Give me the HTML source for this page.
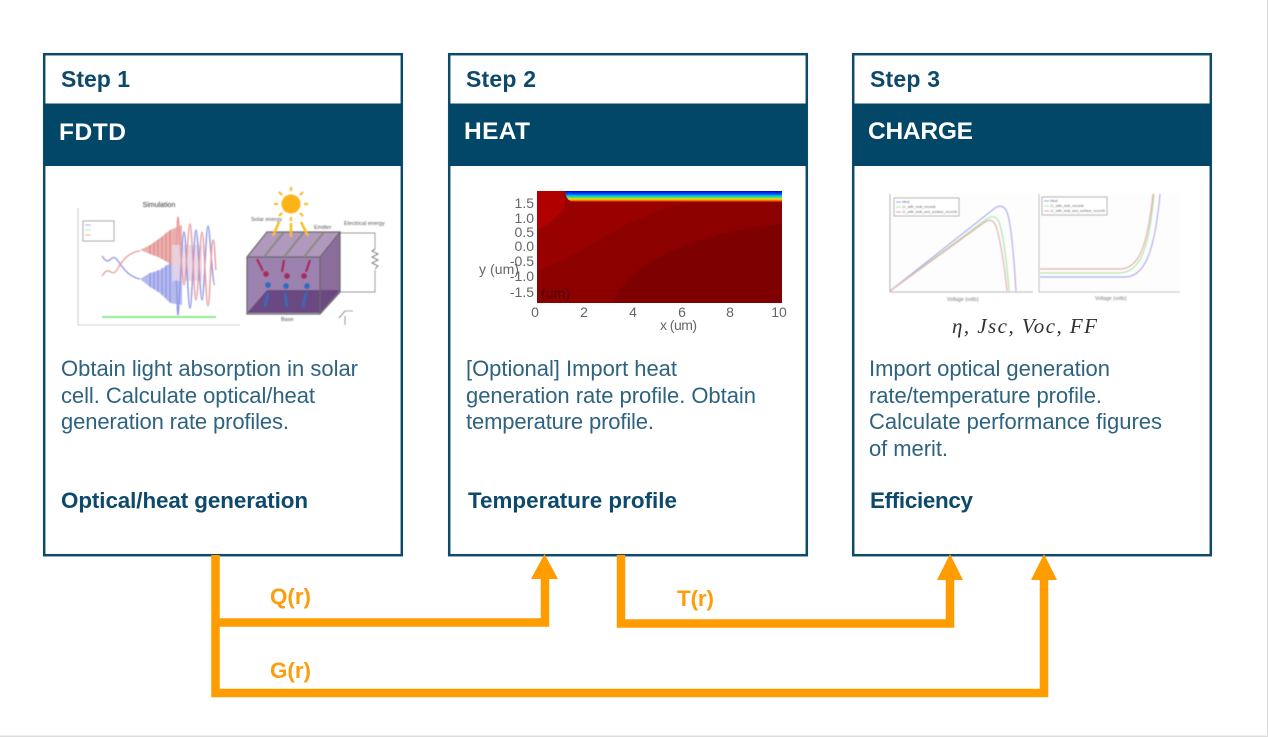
<!DOCTYPE html>
<html><head><meta charset="utf-8"><style>
html,body{margin:0;padding:0;background:#fff}
svg{display:block}
text{font-family:"Liberation Sans",sans-serif}
.s{font-size:23px;font-weight:700;fill:#0f4a6b}
.h{font-size:24.500px;font-weight:700;fill:#fff}
.b{font-size:22px;fill:#2f6480}
.o{font-size:22.400px;font-weight:700;fill:#0f4a6b}
.r{font-size:22.400px;font-weight:700;fill:#ff9c0a}
.m{font-size:21px;font-style:italic;font-family:"Liberation Serif",serif;fill:#333}
</style></head><body>
<svg width="1268" height="737" viewBox="0 0 1268 737" xmlns="http://www.w3.org/2000/svg">
<defs>
<filter id="bl" x="-5%" y="-5%" width="110%" height="110%"><feGaussianBlur stdDeviation="0.6"/></filter>
<filter id="bl2" x="-5%" y="-5%" width="110%" height="110%"><feGaussianBlur stdDeviation="0.35"/></filter>
<linearGradient id="rb" x1="0" y1="0" x2="0" y2="1">
<stop offset="0" stop-color="#0000c8"/><stop offset=".28" stop-color="#0050ff"/><stop offset=".45" stop-color="#00d0e0"/><stop offset=".6" stop-color="#50e060"/><stop offset=".72" stop-color="#f8e000"/><stop offset=".87" stop-color="#ff6a00"/><stop offset="1" stop-color="#a00000"/>
</linearGradient>
</defs>
<rect width="1268" height="737" fill="#fff"/>
<rect x="1267" y="0" width="1" height="737" fill="#ddd"/>
<rect x="0" y="735.500" width="1268" height="1.500" fill="#ddd"/>

<!-- boxes -->
<g fill="#fff" stroke="#0f4a6b" stroke-width="2.500">
<rect x="44.200" y="54.200" width="357.600" height="501"/>
<rect x="449.200" y="54.200" width="357.600" height="501"/>
<rect x="853.200" y="54.200" width="357.600" height="501"/>
</g>
<g fill="#024767">
<rect x="44" y="103.500" width="358" height="62.500"/>
<rect x="449" y="103.500" width="358" height="62.500"/>
<rect x="853" y="103.500" width="358" height="62.500"/>
</g>

<g filter="url(#bl2)">
<text class="s" x="61" y="87" textLength="69">Step 1</text>
<text class="s" x="466" y="87" textLength="70">Step 2</text>
<text class="s" x="870" y="87" textLength="70">Step 3</text>
<text class="h" x="59" y="140" textLength="67">FDTD</text>
<text class="h" x="464" y="139" textLength="66">HEAT</text>
<text class="h" x="868" y="139" textLength="105">CHARGE</text>
</g>

<!-- Step 1 image: plot -->
<g filter="url(#bl)">
<text x="159" y="207" font-size="7" text-anchor="middle" fill="#333">Simulation</text>
<path d="M78 208V325H240" fill="none" stroke="#c4c4c4" stroke-width=".8"/>
<rect x="83" y="221" width="31" height="20" fill="#fff" stroke="#777" stroke-width=".7"/>
<path d="M85 225h6" stroke="#88f" stroke-width=".8"/><path d="M85 230h6" stroke="#8e8" stroke-width=".8"/><path d="M85 235h6" stroke="#e88" stroke-width=".8"/>
<path d="M102 317H216" stroke="#8fe88f" stroke-width="2"/>
<path d="M102 256C106 262 108 262 111 259C114 256 116 258 118 261C124 270 130 277 140 279" fill="none" stroke="#8f97e6" stroke-width="1.300"/>
<path d="M102 276C106 270 108 270 111 272C114 274 116 272 118 268C124 258 130 252 140 251" fill="none" stroke="#e89a9a" stroke-width="1.300"/>
<polygon points="140,279 150,273 160,270 172,262 182,258 182,305 170,303 160,293 150,287" fill="#b4b9ee"/>
<polygon points="140,250 150,245 160,238 170,230 182,225 182,265 172,265 160,258 150,254" fill="#eab0ae"/>
<path d="M150 273v14M154 272v17M158 270v22M162 268v27M166 265v33M170 262v40" stroke="#6d76dc" stroke-width="1" opacity=".7"/>
<path d="M150 245v9M154 243v12M158 240v16M162 237v22M166 233v28M170 230v32" stroke="#d96b68" stroke-width="1" opacity=".7"/>
<rect x="172" y="245" width="30" height="36" fill="#e8d6e4" opacity=".85"/>
<path d="M176 280C177 280 177 315 178 315S182 232 184 232S188 308 190 308S194 230 196 230S200 300 202 300S206 226 208 226S212 285 215 285" fill="none" stroke="#8f97e6" stroke-width="1.400"/>
<path d="M176 245C177 245 177 217 178 217S182 285 184 285S188 224 190 224S194 300 196 300S200 232 202 232S206 306 208 306S211 240 213 240S215 265 216 270" fill="none" stroke="#e89a9a" stroke-width="1.400"/>
<!-- cell -->
<polygon points="247,257 320,257 320,313 247,313" fill="#9c82af"/>
<polygon points="247,257 267,232 340,232 320,257" fill="#b198bd"/>
<polygon points="320,257 340,232 340,292 320,313" fill="#8b6d9b"/>
<polygon points="247,313 267,290 340,290 320,313" fill="#6b4a82"/>
<path d="M247 257L267 232H340L320 257H247V314H320V257M320 314L340 292V232" fill="none" stroke="#666" stroke-width="1.200"/>
<path d="M264 257l20-25M284 257l20-25M304 257l20-25" stroke="#8a8a7a" stroke-width="2"/>
<circle cx="291" cy="204" r="9.500" fill="#fcb316"/>
<path d="M291 191v-4M291 217v4M278 204h-4M304 204h4M282 195l-3-3M300 195l3-3M282 213l-3 3M300 213l3 3" stroke="#fcb316" stroke-width="2"/>
<path d="M279 222l-6 14M291 223v14M301 222l7 14" stroke="#f5be1d" stroke-width="2.500"/>
<path d="M257 259l6 12M284 260l-2 12M310 260l-4 12" stroke="#a82a62" stroke-width="2.500"/>
<circle cx="266" cy="274" r="3" fill="#a82a62"/><circle cx="287" cy="276" r="3" fill="#a82a62"/><circle cx="304" cy="276" r="3" fill="#a82a62"/>
<circle cx="268" cy="285" r="3" fill="#2e6cc0"/><circle cx="286" cy="286" r="3" fill="#2e6cc0"/><circle cx="307" cy="286" r="3" fill="#2e6cc0"/>
<path d="M268 293l-3 14M285 293l2 14M306 293l-3 14" stroke="#2e6cc0" stroke-width="2.500"/>
<path d="M340 233H375V249M375 270V292H340" fill="none" stroke="#777" stroke-width=".7"/>
<path d="M375 249l-3 2 6 3-6 3 6 3-6 3 6 3-3 3" fill="none" stroke="#666" stroke-width=".8"/>
<text x="251" y="221" font-size="5.500" fill="#555">Solar energy</text>
<text x="314" y="229" font-size="5.500" fill="#555">Emitter</text>
<text x="344" y="225" font-size="5.500" fill="#555">Electrical energy</text>
<text x="281" y="321" font-size="5.500" fill="#555">Base</text>
<path d="M345 325v-9M345 311h8M345 311l-6 7" stroke="#555" stroke-width=".6" fill="none"/>
</g>

<!-- Step 2 image -->
<g filter="url(#bl2)">
<rect x="537" y="191" width="245" height="112" fill="#990000"/>
<path d="M537 191H565V207Q550 226 537 229Z" fill="#b00000"/>
<path d="M537 303V270C590 255 620 215 690 203H782V224C700 232 630 260 612 303Z" fill="#8c0000"/>
<path d="M612 303C630 260 700 232 782 224V303Z" fill="#7f0000"/>
<path d="M565 191Q566 202 575 202H782V191Z" fill="url(#rb)"/>
<g font-size="14" fill="#666">
<text x="534" y="208" text-anchor="end">1.5</text>
<text x="534" y="223" text-anchor="end">1.0</text>
<text x="534" y="237" text-anchor="end">0.5</text>
<text x="534" y="251" text-anchor="end">0.0</text>
<text x="534" y="266" text-anchor="end">-0.5</text>
<text x="534" y="281" text-anchor="end">-1.0</text>
<text x="534" y="297" text-anchor="end">-1.5</text>
<text x="535" y="317" text-anchor="middle">0</text>
<text x="584" y="317" text-anchor="middle">2</text>
<text x="633" y="317" text-anchor="middle">4</text>
<text x="682" y="317" text-anchor="middle">6</text>
<text x="730" y="317" text-anchor="middle">8</text>
<text x="779" y="317" text-anchor="middle">10</text>
<text x="660" y="330" textLength="37">x (um)</text>
<text x="479" y="274" textLength="40">y (um)</text>
</g>
<text x="541" y="298" font-size="14" fill="#4a0000" textLength="29">(um)</text>
</g>

<!-- Step 3 image -->
<g filter="url(#bl)">
<rect x="890" y="194" width="145" height="100" fill="#fdfdfd"/>
<rect x="1039" y="194" width="140" height="100" fill="#fdfdfd"/>
<path d="M890 194V292H1033" fill="none" stroke="#999" stroke-width=".8"/>
<path d="M1039 194V292H1180" fill="none" stroke="#aaa" stroke-width=".8"/>
<rect x="894" y="198" width="65" height="18" fill="#fff" stroke="#777" stroke-width=".6"/>
<rect x="1042" y="197" width="65" height="18" fill="#fff" stroke="#777" stroke-width=".6"/>
<path d="M896 202h5" stroke="#88f"/><path d="M896 207h5" stroke="#8e8"/><path d="M896 212h5" stroke="#e88"/>
<path d="M1044 201h5" stroke="#88f"/><path d="M1044 206h5" stroke="#8e8"/><path d="M1044 211h5" stroke="#e88"/>
<text x="902" y="203" font-size="3.500" fill="#555">Ideal</text>
<text x="902" y="208" font-size="3.500" fill="#555">J1_with_bulk_recomb</text>
<text x="902" y="213" font-size="3.500" fill="#555">J1_with_bulk_and_surface_recomb</text>
<text x="1050" y="202" font-size="3.500" fill="#555">Ideal</text>
<text x="1050" y="207" font-size="3.500" fill="#555">J1_with_bulk_recomb</text>
<text x="1050" y="212" font-size="3.500" fill="#555">J1_with_bulk_and_surface_recomb</text>
<path d="M890 291L995 208Q1003 203 1007 212Q1012 225 1016 291" fill="none" stroke="#a9a9ea" stroke-width="1.200"/>
<path d="M890 291L988 218Q995 214 999 222Q1005 240 1009 291" fill="none" stroke="#a6e6a6" stroke-width="1.200"/>
<path d="M890 291L985 222Q992 217 996 226Q1002 245 1007 291" fill="none" stroke="#e8a9a9" stroke-width="1.200"/>
<path d="M1040 277H1125C1145 277 1155 250 1160 194" fill="none" stroke="#a9a9ea" stroke-width="1.200"/>
<path d="M1040 273H1120C1140 272 1149 250 1154 194" fill="none" stroke="#a6e6a6" stroke-width="1.200"/>
<path d="M1040 269H1120C1138 268 1147 250 1153 194" fill="none" stroke="#e8a9a9" stroke-width="1.200"/>
<text x="947" y="301" font-size="5" fill="#777">Voltage (volts)</text>
<text x="1095" y="300" font-size="5" fill="#777">Voltage (volts)</text>
</g>
<text class="m" x="952" y="333" textLength="145" filter="url(#bl2)">η, Jsc, Voc, FF</text>

<!-- body text -->
<g filter="url(#bl2)">
<text class="b" x="61" y="376" textLength="297">Obtain light absorption in solar</text>
<text class="b" x="61" y="403" textLength="254">cell. Calculate optical/heat</text>
<text class="b" x="61" y="429" textLength="228">generation rate profiles.</text>
<text class="o" x="61" y="508" textLength="247">Optical/heat generation</text>

<text class="b" x="466" y="376" textLength="211">[Optional] Import heat</text>
<text class="b" x="466" y="403" textLength="290">generation rate profile. Obtain</text>
<text class="b" x="466" y="429" textLength="188">temperature profile.</text>
<text class="o" x="468" y="508" textLength="209">Temperature profile</text>

<text class="b" x="869" y="376" textLength="241">Import optical generation</text>
<text class="b" x="869" y="403" textLength="233">rate/temperature profile.</text>
<text class="b" x="869" y="429" textLength="293">Calculate performance figures</text>
<text class="b" x="869" y="456" textLength="79">of merit.</text>
<text class="o" x="870" y="508" textLength="103">Efficiency</text>
</g>

<!-- connectors -->
<g fill="none" stroke="#ff9c00" stroke-width="8.500" stroke-linejoin="miter">
<path d="M215.500 555V693H1044V578"/>
<path d="M215.500 622.500H545V578"/>
<path d="M621 555V623.500H950V578"/>
</g>
<g fill="#ff9c00">
<polygon points="544.500,554 531,579 558,579"/>
<polygon points="950,554 937,580 963,580"/>
<polygon points="1044,554 1031,580 1057,580"/>
</g>
<g filter="url(#bl2)">
<text class="r" x="270" y="604" textLength="41">Q(r)</text>
<text class="r" x="677" y="606" textLength="37">T(r)</text>
<text class="r" x="270" y="678" textLength="41">G(r)</text>
</g>
</svg>
</body></html>
